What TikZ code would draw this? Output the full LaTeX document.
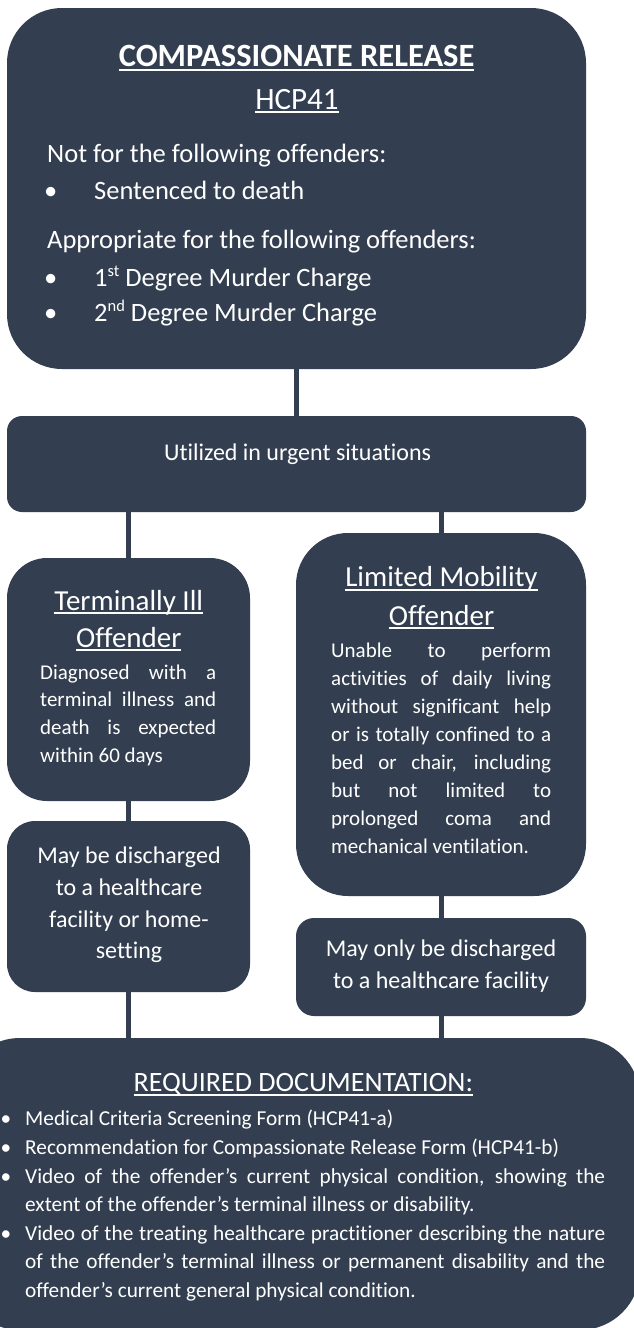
\documentclass[tikz,border=0pt]{standalone}
\usepackage{fontspec}
\setmainfont{Carlito}[Ligatures=NoCommon]
\definecolor{slate}{HTML}{333F50}
\newcommand\ulx[1]{\setbox0=\hbox{#1}\rlap{\vrule height -0.08em depth 0.145em width \wd0}\box0}
\newcommand\jline[2]{\makebox[#1][s]{#2}}
\newcommand\supx[1]{\raisebox{0.36em}{\fontsize{16.5}{17}\selectfont #1}}
\tikzset{
  box/.style={fill=slate, draw=none, inner sep=0pt},
  conn/.style={draw=slate, line width=5pt},
  txt/.style={text=white, inner sep=0pt, anchor=base},
  txtl/.style={text=white, inner sep=0pt, anchor=base west},
  fTitleB/.style={font=\fontsize{32.5}{38}\selectfont\bfseries},
  fTitle/.style={font=\fontsize{31}{37}\selectfont},
  fTop/.style={font=\fontsize{26.5}{32}\selectfont},
  fHead/.style={font=\fontsize{29}{35}\selectfont},
  fBody/.style={font=\fontsize{21}{26}\selectfont},
  fMid/.style={font=\fontsize{24}{29}\selectfont},
  fDoc/.style={font=\fontsize{28}{34}\selectfont},
  fList/.style={font=\fontsize{21.3}{26}\selectfont},
}
\begin{document}
\begin{tikzpicture}[x=1pt,y=-1pt]
\clip (0,0) rectangle (634,1328);
\fill[white] (0,0) rectangle (634,1328);
% boxes
\node[box, rounded corners=55pt, minimum width=579pt, minimum height=361pt] (top) at (296.5,188.5) {};
\node[box, rounded corners=15pt, minimum width=579pt, minimum height=96pt] (util) at (296.5,464) {};
\node[box, rounded corners=40pt, minimum width=243pt, minimum height=243pt] (term) at (128.5,679.5) {};
\node[box, rounded corners=52pt, minimum width=290pt, minimum height=363pt] (limm) at (441,714.5) {};
\node[box, rounded corners=28pt, minimum width=243pt, minimum height=171pt] (mayb) at (128.5,906.5) {};
\node[box, rounded corners=18pt, minimum width=290pt, minimum height=98pt] (mayo) at (441,967) {};
\node[box, rounded corners=60pt, minimum width=680pt, minimum height=292pt] (docs) at (300,1184) {};
% connectors
\draw[conn] (top.south) -- (util.north);
\draw[conn] (util.south -| term.north) -- (term.north);
\draw[conn] (util.south -| limm.north) -- (limm.north);
\draw[conn] (term.south) -- (mayb.north);
\draw[conn] (limm.south) -- (mayo.north);
\draw[conn] (mayb.south) -- (mayb.south |- docs.north);
\draw[conn] (mayo.south) -- (mayo.south |- docs.north);
% top box text
\node[txt, fTitleB] (t1) at (296.6,66.7) {\ulx{COMPASSIONATE RELEASE}};
\node[txt, fTitle] (t2) at (297,109) {\ulx{HCP41}};
\node[txtl, fTop] (t3) at (47,162) {Not for the following offenders:};
\node[txt, fTop] (b1) at (50.6,199) {•};
\node[txtl, fTop] (t4) at (94,199) {Sentenced to death};
\node[txtl, fTop] (t5) at (47,248) {Appropriate for the following offenders:};
\node[txt, fTop] (b2) at (50.6,286) {•};
\node[txtl, fTop] (t6) at (94,286) {1\supx{st} Degree Murder Charge};
\node[txt, fTop] (b3) at (50.6,321) {•};
\node[txtl, fTop] (t7) at (94,321) {2\supx{nd} Degree Murder Charge};
% utilized
\node[txt, fMid] (u1) at (297.6,460.7) {Utilized in urgent situations};
% terminally ill
\node[txt, fHead] (ti1) at (128.8,610) {\ulx{Terminally Ill}};
\node[txt, fHead] (ti2) at (128.8,647) {\ulx{Offender}};
\node[txtl, fBody] (ti3) at (40,679) {\jline{176pt}{Diagnosed with a}};
\node[txtl, fBody] (ti4) at (40,706.7) {\jline{176pt}{terminal illness and}};
\node[txtl, fBody] (ti5) at (40,734.3) {\jline{176pt}{death is expected}};
\node[txtl, fBody] (ti6) at (40,762) {within 60 days};
% limited mobility
\node[txt, fHead] (lm1) at (441.5,586.7) {\ulx{Limited Mobility}};
\node[txt, fHead] (lm2) at (441.5,625) {\ulx{Offender}};
\node[txtl, fBody] (lm3) at (331,657) {\jline{220pt}{Unable to perform}};
\node[txtl, fBody] (lm4) at (331,685.5) {\jline{220pt}{activities of daily living}};
\node[txtl, fBody] (lm5) at (331,713.5) {\jline{220pt}{without significant help}};
\node[txtl, fBody] (lm6) at (331,741.5) {\jline{220pt}{or is totally confined to a}};
\node[txtl, fBody] (lm7) at (331,769.5) {\jline{220pt}{bed or chair, including}};
\node[txtl, fBody] (lm8) at (331,797.5) {\jline{220pt}{but not limited to}};
\node[txtl, fBody] (lm9) at (331,825.5) {\jline{220pt}{prolonged coma and}};
\node[txtl, fBody] (lm10) at (331,853.7) {mechanical ventilation.};
% may be discharged
\node[txt, fMid] (mb1) at (129,863) {May be discharged};
\node[txt, fMid] (mb2) at (129,895) {to a healthcare};
\node[txt, fMid] (mb3) at (129,927) {facility or home-};
\node[txt, fMid] (mb4) at (129,958) {setting};
% may only
\node[txt, fMid] (mo1) at (441,956.7) {May only be discharged};
\node[txt, fMid] (mo2) at (441,988) {to a healthcare facility};
% documentation
\node[txt, fDoc] (d0) at (303.3,1091.7) {\ulx{REQUIRED DOCUMENTATION:}};
\node[txt, fList] (db1) at (6,1125) {•};
\node[txtl, fList] (d1) at (25,1125) {Medical Criteria Screening Form (HCP41-a)};
\node[txt, fList] (db2) at (6,1154) {•};
\node[txtl, fList] (d2) at (25,1154) {Recommendation for Compassionate Release Form (HCP41-b)};
\node[txt, fList] (db3) at (6,1183) {•};
\node[txtl, fList] (d3) at (25,1183) {\jline{580pt}{Video of the offender’s current physical condition, showing the}};
\node[txtl, fList] (d4) at (25,1211.5) {extent of the offender’s terminal illness or disability.};
\node[txt, fList] (db4) at (6,1240) {•};
\node[txtl, fList] (d5) at (25,1240) {\jline{580pt}{Video of the treating healthcare practitioner describing the nature}};
\node[txtl, fList] (d6) at (25,1268.5) {\jline{580pt}{of the offender’s terminal illness or permanent disability and the}};
\node[txtl, fList] (d7) at (25,1297) {offender’s current general physical condition.};
\end{tikzpicture}
\end{document}
